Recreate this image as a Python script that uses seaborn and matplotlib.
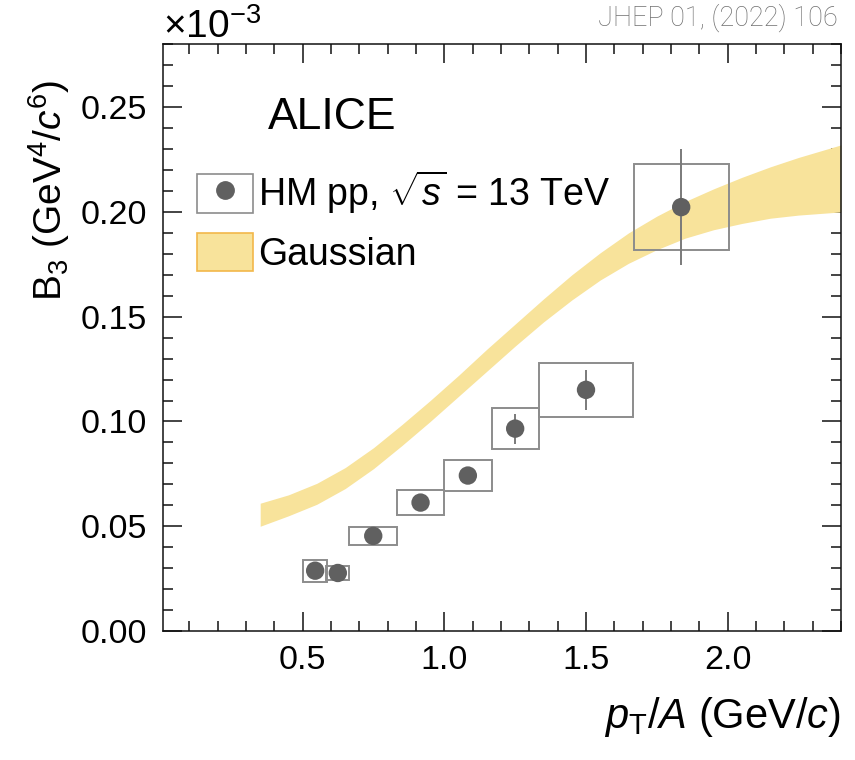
import matplotlib
matplotlib.use("Agg")
import matplotlib.pyplot as plt
import seaborn as sns
import numpy as np
from matplotlib.patches import Patch
from matplotlib.lines import Line2D
from matplotlib.legend_handler import HandlerTuple
from matplotlib.ticker import MultipleLocator, FormatStrFormatter

sns.set_style("ticks")
plt.rcParams.update({
    "font.family": ["Liberation Sans", "DejaVu Sans"],
    "mathtext.fontset": "custom",
    "mathtext.rm": "Liberation Sans",
    "mathtext.it": "Liberation Sans:italic",
    "mathtext.bf": "Liberation Sans:bold",
    "text.color": "black",
    "axes.labelcolor": "black",
    "xtick.color": "black",
    "ytick.color": "black",
})

# data (B3 in units of 1e-3 GeV^4/c^6)
pt = [0.544, 0.624, 0.749, 0.916, 1.083, 1.250, 1.500, 1.836]
b3 = [0.0288, 0.0277, 0.0454, 0.0613, 0.0742, 0.0966, 0.1151, 0.2023]
stat = [0.0015, 0.0015, 0.0018, 0.0025, 0.003, 0.0072, 0.0096, 0.0278]
sys_x = [0.043, 0.041, 0.084, 0.084, 0.084, 0.083, 0.167, 0.168]
sys_y = [0.0053, 0.0032, 0.0042, 0.0058, 0.0072, 0.0098, 0.013, 0.0205]

# Gaussian band
band_x = [0.35, 0.45, 0.55, 0.65, 0.75, 0.85, 0.95, 1.05, 1.15, 1.25, 1.35,
          1.45, 1.55, 1.65, 1.75, 1.85, 1.95, 2.05, 2.15, 2.25, 2.4]
band_lo = [0.0500, 0.0550, 0.0605, 0.0680, 0.0775, 0.0885, 0.1000, 0.1120, 0.1240, 0.1360, 0.1475,
           0.1580, 0.1675, 0.1755, 0.1820, 0.1875, 0.1915, 0.1945, 0.1970, 0.1985, 0.2000]
band_hi = [0.0610, 0.0650, 0.0705, 0.0780, 0.0875, 0.0985, 0.1100, 0.1220, 0.1345, 0.1465, 0.1585,
           0.1700, 0.1805, 0.1900, 0.1980, 0.2050, 0.2110, 0.2165, 0.2215, 0.2260, 0.2320]

band_col = "#f8e39b"
marker_col = "#606060"
box_col = "#8c8c8c"

fig = plt.figure(figsize=(8.55, 7.6), dpi=100)
ax = fig.add_axes([0.191, 0.1697, 0.7926, 0.772])

ax.fill_between(band_x, band_lo, band_hi, color=band_col, lw=0, zorder=1)

x = np.array(pt)
y = np.array(b3)
ax.bar(x, height=2 * np.array(sys_y), bottom=y - np.array(sys_y), width=2 * np.array(sys_x),
       fill=False, edgecolor=box_col, linewidth=1.4, zorder=2)
ax.errorbar(x, y, yerr=stat, fmt="none", ecolor="#7a7a7a", elinewidth=1.4, capsize=0, zorder=3)
sns.scatterplot(x=pt, y=b3, ax=ax, s=175, color=marker_col, edgecolor="none", zorder=5, legend=False)

ax.set_xlim(0.008, 2.4)
ax.set_ylim(0, 0.28)
ax.xaxis.set_major_locator(MultipleLocator(0.5))
ax.xaxis.set_minor_locator(MultipleLocator(0.1))
ax.yaxis.set_major_locator(MultipleLocator(0.05))
ax.yaxis.set_minor_locator(MultipleLocator(0.01))
ax.xaxis.set_major_formatter(FormatStrFormatter("%.1f"))
ax.yaxis.set_major_formatter(FormatStrFormatter("%.2f"))
ax.tick_params(which="both", direction="in", top=True, right=True, labelsize=24.5,
               color="#111111", width=1.1)
ax.tick_params(which="major", length=14)
ax.tick_params(which="minor", length=7)
ax.tick_params(axis="x", pad=10)
ax.tick_params(axis="y", pad=12)
for s in ax.spines.values():
    s.set_linewidth(1.1)
    s.set_color("#111111")

ax.set_xlabel(r"$p_{\mathrm{T}}$/$A$ (GeV/$c$)", fontsize=30, loc="right")
ax.xaxis.set_label_coords(1.0, -0.109)
ax.set_ylabel(r"B$_3$ (GeV$^4$/$c^6$)", fontsize=28, loc="top")
ax.yaxis.set_label_coords(-0.135, 0.939)

fig.text(163 / 855, 1 - 38 / 760, r"$\times$10$^{-3}$", fontsize=28, ha="left", va="baseline")
fig.text(838 / 855, 1 - 4 / 760, "JHEP 01, (2022) 106", fontsize=19.5, ha="right", va="top",
         color="#707070", family=["Roboto", "DejaVu Sans"], fontweight="light")
ax.text(0.155, 0.875, "ALICE", transform=ax.transAxes, fontsize=32, ha="left", va="center")

handles = [
    (Patch(facecolor="white", edgecolor=box_col, linewidth=1.2),
     Line2D([], [], marker="o", ls="", color=marker_col, ms=12.5)),
    Patch(facecolor=band_col, edgecolor="#f2b74a", linewidth=1.2),
]
labels = [r"HM pp, $\sqrt{s}$ = 13 TeV", "Gaussian"]
ax.legend(handles, labels, loc="upper left", bbox_to_anchor=(0.05, 0.788), frameon=False,
          fontsize=27, handlelength=1.5, handleheight=1.2, handletextpad=0.13,
          borderpad=0, borderaxespad=0, labelspacing=0.45,
          handler_map={tuple: HandlerTuple(ndivide=1, pad=0)})

fig.savefig("out.png", dpi=100)
